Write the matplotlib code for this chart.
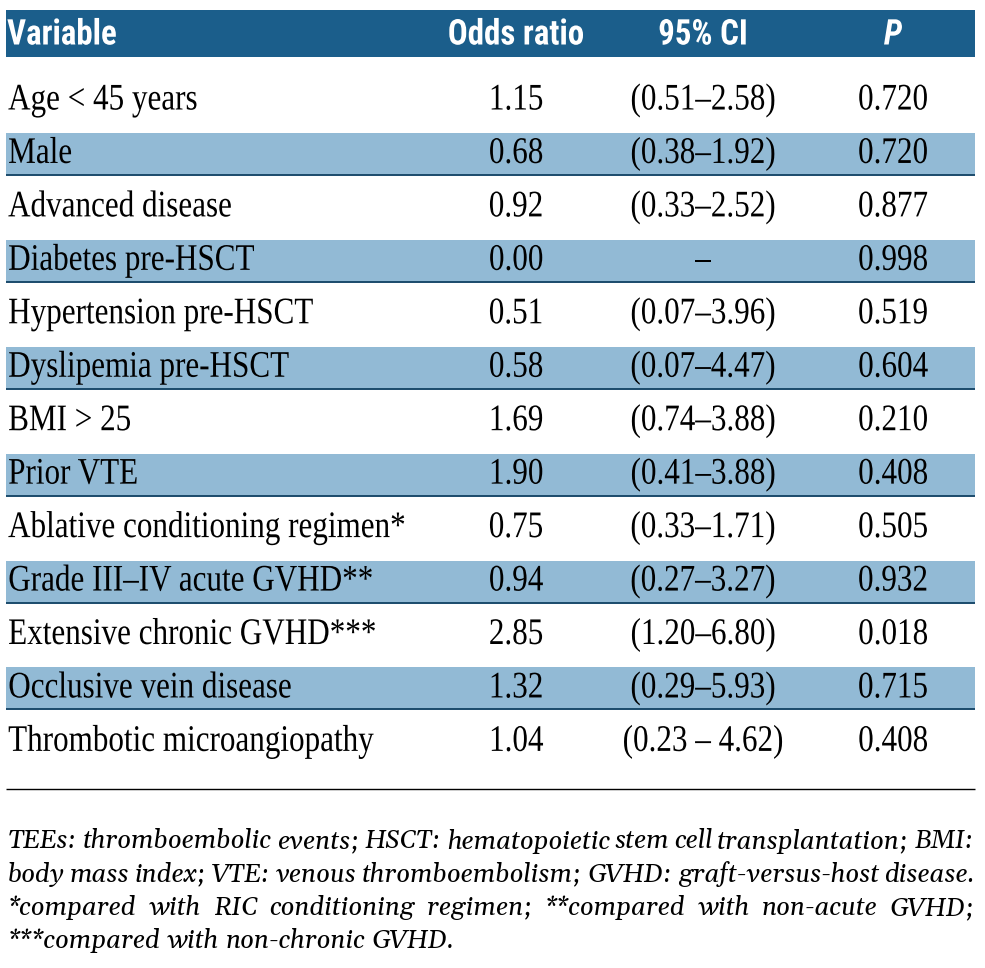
import matplotlib
matplotlib.use("Agg")
import matplotlib.pyplot as plt
from matplotlib import patheffects as pe
from matplotlib.patches import Rectangle
from matplotlib.transforms import Affine2D

# ---------------- data ----------------
headers = ["Variable", "Odds ratio", "95% CI", "P"]
variables = [
    "Age < 45 years", "Male", "Advanced disease", "Diabetes pre-HSCT",
    "Hypertension pre-HSCT", "Dyslipemia pre-HSCT", "BMI > 25", "Prior VTE",
    "Ablative conditioning regimen*", "Grade III\u2013IV acute GVHD**",
    "Extensive chronic GVHD***", "Occlusive vein disease",
    "Thrombotic microangiopathy",
]
odds_ratio = ["1.15", "0.68", "0.92", "0.00", "0.51", "0.58", "1.69", "1.90",
              "0.75", "0.94", "2.85", "1.32", "1.04"]
ci_95 = ["(0.51\u20132.58)", "(0.38\u20131.92)", "(0.33\u20132.52)", "\u2013",
         "(0.07\u20133.96)", "(0.07\u20134.47)", "(0.74\u20133.88)", "(0.41\u20133.88)",
         "(0.33\u20131.71)", "(0.27\u20133.27)", "(1.20\u20136.80)", "(0.29\u20135.93)",
         "(0.23 \u2013 4.62)"]
p_values = ["0.720", "0.720", "0.877", "0.998", "0.519", "0.604", "0.210",
            "0.408", "0.505", "0.932", "0.018", "0.715", "0.408"]
footnote_lines = [
    "TEEs: thromboembolic events; HSCT: hematopoietic stem cell transplantation; BMI:",
    "body mass index; VTE: venous thromboembolism; GVHD: graft-versus-host disease.",
    "*compared with RIC conditioning regimen; **compared with non-acute GVHD;",
    "***compared with non-chronic GVHD.",
]

# ---------------- style ----------------
W, H = 985, 968
HEADER_C = "#1b5e8b"
BAND_C = "#92bad5"
BAND_LINE_C = "#1a4a6b"
X0, X1 = 6, 975
COL_X = [8, 516, 703, 893]
COL_HA = ["left", "center", "center", "center"]
HEAD_TOP, HEAD_BOT, HEAD_BASE = 10, 56.5, 44.5
ROW_BASE0, ROW_STEP = 109.5, 53.45
BODY_FONT = ["Liberation Serif", "DejaVu Serif"]
HEAD_FONT = ["Roboto Condensed", "DejaVu Sans"]
NOTE_FONT = ["Gelasio", "Liberation Serif", "DejaVu Serif"]
NOTE_SIZE = 18.5


class HScale(pe.AbstractPathEffect):
    """Horizontally condense glyph outlines around an anchor (keeps real text)."""

    def __init__(self, sx, anchor="left"):
        super().__init__()
        self.sx = sx
        self.anchor = anchor

    def draw_path(self, renderer, gc, tpath, affine, rgbFace=None):
        bb = tpath.get_extents(affine)
        a = {"left": bb.x0, "center": 0.5 * (bb.x0 + bb.x1), "right": bb.x1}[self.anchor]
        t = affine + Affine2D().translate(-a, 0).scale(self.sx, 1).translate(a, 0)
        renderer.draw_path(gc, tpath, t, rgbFace)


fig = plt.figure(figsize=(W / 100, H / 100), dpi=100)
ax = fig.add_axes([0, 0, 1, 1])
ax.set_xlim(0, W)
ax.set_ylim(H, 0)
ax.axis("off")

# header
ax.add_patch(Rectangle((X0, HEAD_TOP), X1 - X0, HEAD_BOT - HEAD_TOP,
                       facecolor=HEADER_C, edgecolor="none"))
for j, h in enumerate(headers):
    ax.text(COL_X[j] - (1 if j == 0 else 0), HEAD_BASE, h, ha=COL_HA[j], va="baseline",
            color="white", fontsize=25.5, fontweight="heavy",
            fontstyle="italic" if h == "P" else "normal",
            family=HEAD_FONT,
            path_effects=[HScale(0.93, COL_HA[j])])

# rows
columns = [variables, odds_ratio, ci_95, p_values]
for i in range(len(variables)):
    base = ROW_BASE0 + i * ROW_STEP
    if i % 2 == 1:
        top, bot = base - 30, base + 12
        ax.add_patch(Rectangle((X0, top), X1 - X0, bot - top,
                               facecolor=BAND_C, edgecolor="none"))
        ax.plot([X0, X1], [bot, bot], color=BAND_LINE_C, lw=1.4,
                solid_capstyle="butt")
    for j, col in enumerate(columns):
        ax.text(COL_X[j], base, col[i], ha=COL_HA[j], va="baseline",
                color="black", fontsize=27, family=BODY_FONT,
                path_effects=[HScale(0.83, COL_HA[j])])

# rule above footnote
rule_y = ROW_BASE0 + len(variables) * ROW_STEP - 15
ax.plot([X0, X1], [rule_y, rule_y], color="black", lw=1.0, solid_capstyle="butt")

# justified footnote
renderer = fig.canvas.get_renderer()
note_base0, note_step = 848.5, 33.3
for k, line in enumerate(footnote_lines):
    yb = note_base0 + k * note_step
    words = line.split(" ")
    texts = [ax.text(0, yb, w, ha="left", va="baseline", fontsize=NOTE_SIZE,
                     style="italic", family=NOTE_FONT, color="black")
             for w in words]
    widths = [t.get_window_extent(renderer).width for t in texts]
    justify = k < len(footnote_lines) - 1 and len(words) > 1
    if justify:
        gap = ((X1 - 8) - sum(widths)) / (len(words) - 1)
    else:
        sp = ax.text(0, yb, "a a", fontsize=NOTE_SIZE, style="italic", family=NOTE_FONT)
        sp2 = ax.text(0, yb, "aa", fontsize=NOTE_SIZE, style="italic", family=NOTE_FONT)
        gap = sp.get_window_extent(renderer).width - sp2.get_window_extent(renderer).width
        sp.remove()
        sp2.remove()
    x = 8
    for t, w in zip(texts, widths):
        t.set_x(x)
        x += w + gap

fig.savefig("out.png", dpi=100)
